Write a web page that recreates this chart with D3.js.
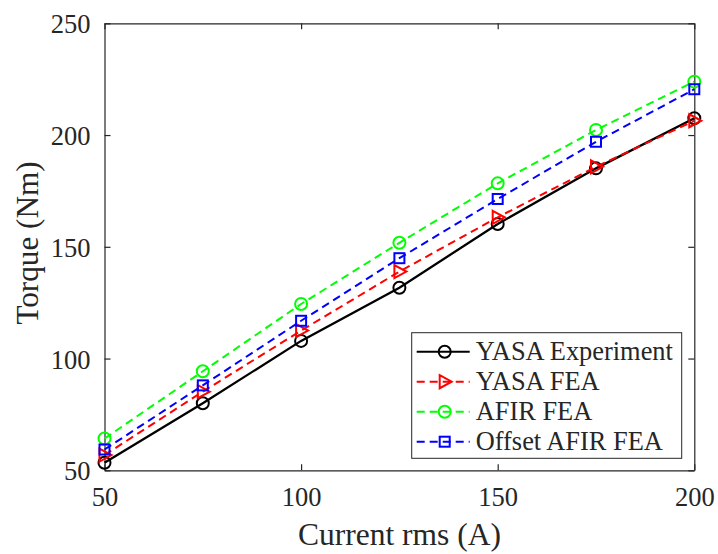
<!DOCTYPE html>
<html>
<head>
<meta charset="utf-8">
<script src="https://cdn.jsdelivr.net/npm/d3@7"></script>
<style>
  body { margin: 0; background: #fff; }
  svg text { font-family: "Liberation Serif", "Times New Roman", serif; fill: #262626; }
</style>
</head>
<body>
<div id="chart"></div>
<script>
// data
const current = [50, 75, 100, 125, 150, 175, 200];
const yasaExperiment = [53.4, 80, 107.9, 131.7, 160.2, 185.1, 207.5];
const yasaFEA = [56.8, 85.2, 112.5, 138.9, 163.2, 185.8, 206.4];
const afirFEA = [64.2, 94.3, 124.4, 151.8, 178.4, 202.3, 223.9];
const offsetAfirFEA = [59.3, 88.0, 116.9, 144.9, 171.4, 197, 220.5];
const seriesNames = ["YASA Experiment", "YASA FEA", "AFIR FEA", "Offset AFIR FEA"];
const xTicks = [50, 100, 150, 200];
const yTicks = [50, 100, 150, 200, 250];

const W = 718, H = 554;
const margin = { top: 23.3, right: 23.7, bottom: 83.7, left: 104.5 };
const width = W - margin.left - margin.right;
const height = H - margin.top - margin.bottom;

const svg = d3.select("#chart")
    .append("svg")
    .attr("width", W)
    .attr("height", H);

const g = svg.append("g")
    .attr("transform", `translate(${margin.left},${margin.top})`);

// SCALES
const xs = d3.scaleLinear().domain([50, 200]).range([0, width]);
const ys = d3.scaleLinear().domain([50, 250]).range([height, 0]);

// AXES (ticks inward, box on all sides)
const axisColor = "#262626";
function styleAxis(sel) {
    sel.select(".domain").attr("stroke", axisColor).attr("stroke-width", 1.2);
    sel.selectAll(".tick line").attr("stroke", axisColor).attr("stroke-width", 1.2);
    sel.selectAll(".tick text")
        .style("font-size", "26.5px")
        .style("fill", axisColor);
}

g.append("g")
    .attr("transform", `translate(0,${height})`)
    .call(d3.axisBottom(xs).tickValues(xTicks).tickSizeInner(-6).tickSizeOuter(0))
    .call(styleAxis)
    .selectAll(".tick text").attr("y", 35.7).attr("dy", 0);

g.append("g")
    .call(d3.axisLeft(ys).tickValues(yTicks).tickSizeInner(-6).tickSizeOuter(0).tickPadding(14))
    .call(styleAxis)
    .selectAll(".tick text").attr("dy", 9.5);

g.append("g")
    .call(d3.axisTop(xs).tickValues(xTicks).tickSizeInner(-6).tickSizeOuter(0).tickFormat(""))
    .call(styleAxis);

g.append("g")
    .attr("transform", `translate(${width},0)`)
    .call(d3.axisRight(ys).tickValues(yTicks).tickSizeInner(-6).tickSizeOuter(0).tickFormat(""))
    .call(styleAxis);

// axis labels
svg.append("text")
    .attr("x", margin.left + width / 2)
    .attr("y", 545)
    .attr("text-anchor", "middle")
    .style("font-size", "31.5px")
    .text("Current rms (A)");

svg.append("text")
    .attr("transform", "rotate(-90)")
    .attr("x", -243)
    .attr("y", 38)
    .attr("text-anchor", "middle")
    .style("font-size", "31.2px")
    .text("Torque (Nm)");

// SERIES
const series = [
    { name: seriesNames[0], values: yasaExperiment, color: "#000000", dash: null, marker: "circle" },
    { name: seriesNames[1], values: yasaFEA, color: "#ff0000", dash: "8,5", marker: "triangle" },
    { name: seriesNames[2], values: afirFEA, color: "#00ff00", dash: "8,5", marker: "circle" },
    { name: seriesNames[3], values: offsetAfirFEA, color: "#0000ff", dash: "8,5", marker: "square" }
];

const line = d3.line()
    .x(d => xs(d.x))
    .y(d => ys(d.y));

function drawMarker(sel, type, color) {
    if (type === "circle") {
        sel.append("circle").attr("r", 6);
    } else if (type === "square") {
        sel.append("rect").attr("x", -5).attr("y", -5).attr("width", 10).attr("height", 10);
    } else {
        sel.append("path").attr("d", "M-5,-6.5L7,0L-5,6.5Z");
    }
    sel.selectAll("*")
        .attr("fill", "none")
        .attr("stroke", color)
        .attr("stroke-width", 2);
}

series.forEach(s => {
    const pts = current.map((x, i) => ({ x: x, y: s.values[i] }));
    g.append("path")
        .datum(pts)
        .attr("d", line)
        .attr("fill", "none")
        .attr("stroke", s.color)
        .attr("stroke-width", s.dash ? 2 : 2.3)
        .attr("stroke-dasharray", s.dash);

    g.append("g")
        .selectAll("g")
        .data(pts)
        .enter()
        .append("g")
        .attr("transform", d => `translate(${xs(d.x)},${ys(d.y)})`)
        .each(function () { drawMarker(d3.select(this), s.marker, s.color); });
});

// LEGEND
const legend = svg.append("g").attr("transform", "translate(411.7,332.7)");
legend.append("rect")
    .attr("width", 270)
    .attr("height", 125.6)
    .attr("fill", "#fff")
    .attr("stroke", axisColor)
    .attr("stroke-width", 1);

series.forEach((s, i) => {
    const row = legend.append("g").attr("transform", `translate(0,${19 + i * 30})`);
    row.append("line")
        .attr("x1", 5).attr("x2", 58)
        .attr("stroke", s.color)
        .attr("stroke-width", 2)
        .attr("stroke-dasharray", s.dash);
    const m = row.append("g").attr("transform", "translate(33,0)");
    drawMarker(m, s.marker, s.color);
    row.append("text")
        .attr("x", 64)
        .attr("y", 0)
        .attr("dy", "0.33em")
        .style("font-size", "26.4px")
        .text(s.name);
});
</script>
</body>
</html>
